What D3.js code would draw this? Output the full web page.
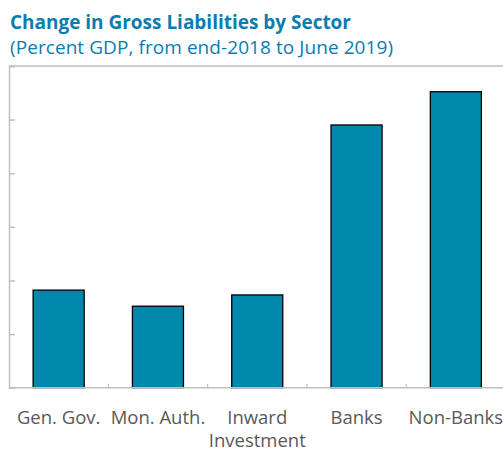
<!DOCTYPE html>
<html>
<head>
<meta charset="utf-8">
<script src="https://cdn.jsdelivr.net/npm/d3@7"></script>
<style>
  body { margin: 0; background: #fff; }
  svg { display: block; font-family: "Open Sans", "Noto Sans", sans-serif; }
</style>
</head>
<body>
<script>
// categories and values (percent of GDP)
const sectors = ["Gen. Gov.", "Mon. Auth.", "Inward Investment", "Banks", "Non-Banks"];
const changes = [1.82, 1.52, 1.73, 4.9, 5.52];
const yTicks = [0, 1, 2, 3, 4, 5, 6];

const width = 503, height = 453;
const margin = { top: 66, left: 9, bottom: 387.7 };
const plotRight = 505.5;

const svg = d3.select("body").append("svg")
    .attr("width", width)
    .attr("height", height);

// titles
svg.append("text")
    .attr("x", 10).attr("y", 29)
    .attr("fill", "#0a7db0")
    .attr("font-weight", "bold")
    .attr("font-size", 19)
    .attr("textLength", 341)
    .text("Change in Gross Liabilities by Sector");

svg.append("text")
    .attr("x", 10).attr("y", 54)
    .attr("fill", "#0a7db0")
    .attr("font-size", 19)
    .attr("textLength", 383)
    .text("(Percent GDP, from end-2018 to June 2019)");

const x = d3.scaleBand()
    .domain(sectors)
    .range([margin.left, plotRight])
    .paddingInner(0.486)
    .paddingOuter(0.243);

const y = d3.scaleLinear()
    .domain([0, 6])
    .range([margin.bottom, margin.top]);

const axisColor = "#bfbfbf";

// top border
svg.append("line")
    .attr("x1", margin.left).attr("x2", plotRight)
    .attr("y1", y(6)).attr("y2", y(6))
    .attr("stroke", axisColor).attr("stroke-width", 1.5);

// bars
svg.selectAll(".bar")
    .data(sectors)
    .enter()
    .append("rect")
    .attr("class", "bar")
    .attr("x", d => x(d))
    .attr("width", x.bandwidth())
    .attr("y", (d, i) => y(changes[i]))
    .attr("height", (d, i) => y(0) - y(changes[i]))
    .attr("fill", "#0089ad")
    .attr("stroke", "#000")
    .attr("stroke-width", 1.3);

// left axis, ticks pointing inward, no labels
const yAxis = svg.append("g")
    .attr("transform", "translate(" + margin.left + ",0)")
    .call(d3.axisRight(y).tickValues(yTicks).tickSize(6).tickFormat(""));
yAxis.select(".domain").attr("stroke", axisColor).attr("stroke-width", 1.5);
yAxis.selectAll(".tick line").attr("stroke", axisColor).attr("stroke-width", 1.5);

// bottom axis, small ticks between categories
const xAxis = svg.append("g")
    .attr("transform", "translate(0," + margin.bottom + ")");
xAxis.append("line")
    .attr("x1", margin.left).attr("x2", plotRight)
    .attr("stroke", axisColor).attr("stroke-width", 1.5);
xAxis.selectAll(".sep")
    .data(sectors.slice(1))
    .enter()
    .append("line")
    .attr("class", "sep")
    .attr("x1", d => x(d) - x.step() * 0.243)
    .attr("x2", d => x(d) - x.step() * 0.243)
    .attr("y1", 0).attr("y2", -4)
    .attr("stroke", axisColor).attr("stroke-width", 1.2);

// category labels (wrapped)
const labelLines = { "Inward Investment": ["Inward", "Investment"] };
const labels = svg.selectAll(".lbl")
    .data(sectors)
    .enter()
    .append("text")
    .attr("class", "lbl")
    .attr("text-anchor", "middle")
    .attr("fill", "#595959")
    .attr("font-size", 18.5)
    .attr("y", 424);
labels.selectAll("tspan")
    .data(d => (labelLines[d] || [d]).map(t => ({ t: t, c: d })))
    .enter()
    .append("tspan")
    .attr("x", d => x(d.c) + x.bandwidth() / 2)
    .attr("dy", (d, i) => i === 0 ? 0 : 23)
    .text(d => d.t);
</script>
</body>
</html>
